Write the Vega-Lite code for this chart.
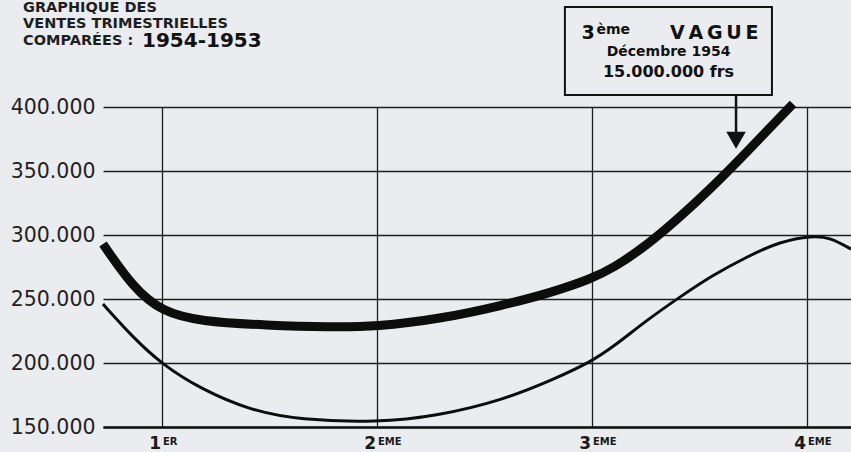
{
  "$schema": "https://vega.github.io/schema/vega-lite/v6.json",
  "width": 748,
  "height": 320,
  "autosize": "none",
  "padding": {"left": 103, "top": 107, "right": 0, "bottom": 25},
  "background": "#eaecef",
  "config": {"view": {"stroke": null}, "font": "DejaVu Sans"},
  "datasets": {
    "sales": [
      {"q": 0.7256, "value": 293000, "year": "1954"},
      {"q": 0.865, "value": 259000, "year": "1954"},
      {"q": 1.0, "value": 240000, "year": "1954"},
      {"q": 1.177, "value": 232500, "year": "1954"},
      {"q": 1.488, "value": 229500, "year": "1954"},
      {"q": 1.781, "value": 228000, "year": "1954"},
      {"q": 2.0, "value": 228500, "year": "1954"},
      {"q": 2.279, "value": 234000, "year": "1954"},
      {"q": 2.586, "value": 245000, "year": "1954"},
      {"q": 2.819, "value": 255500, "year": "1954"},
      {"q": 2.991, "value": 265500, "year": "1954"},
      {"q": 3.098, "value": 274000, "year": "1954"},
      {"q": 3.256, "value": 292000, "year": "1954"},
      {"q": 3.409, "value": 314000, "year": "1954"},
      {"q": 3.563, "value": 338000, "year": "1954"},
      {"q": 3.721, "value": 365000, "year": "1954"},
      {"q": 3.874, "value": 392000, "year": "1954"},
      {"q": 3.935, "value": 402500, "year": "1954"},
      {"q": 0.7256, "value": 246000, "year": "1953"},
      {"q": 0.865, "value": 220000, "year": "1953"},
      {"q": 1.0, "value": 199000, "year": "1953"},
      {"q": 1.177, "value": 180000, "year": "1953"},
      {"q": 1.409, "value": 163000, "year": "1953"},
      {"q": 1.642, "value": 155500, "year": "1953"},
      {"q": 2.0, "value": 153500, "year": "1953"},
      {"q": 2.279, "value": 158500, "year": "1953"},
      {"q": 2.586, "value": 171000, "year": "1953"},
      {"q": 2.819, "value": 187000, "year": "1953"},
      {"q": 2.991, "value": 200500, "year": "1953"},
      {"q": 3.098, "value": 212500, "year": "1953"},
      {"q": 3.256, "value": 233600, "year": "1953"},
      {"q": 3.409, "value": 251600, "year": "1953"},
      {"q": 3.563, "value": 268800, "year": "1953"},
      {"q": 3.721, "value": 283000, "year": "1953"},
      {"q": 3.874, "value": 295000, "year": "1953"},
      {"q": 4.028, "value": 299500, "year": "1953"},
      {"q": 4.107, "value": 298000, "year": "1953"},
      {"q": 4.2047, "value": 289000, "year": "1953"}
    ],
    "quarters": [
      {"q": 1, "n": "1", "s": "ER"},
      {"q": 2, "n": "2", "s": "EME"},
      {"q": 3, "n": "3", "s": "EME"},
      {"q": 4, "n": "4", "s": "EME"}
    ],
    "one": [{}]
  },
  "layer": [
    {
      "data": {"name": "sales"},
      "mark": {"type": "line", "interpolate": "basis", "color": "#0d0d0d", "strokeCap": "butt", "clip": false},
      "encoding": {
        "x": {
          "field": "q", "type": "quantitative",
          "scale": {"domain": [0.7256, 4.2047], "nice": false, "zero": false},
          "axis": {
            "values": [1, 2, 3, 4], "grid": true, "gridColor": "#1e1e1e", "gridWidth": 1.3, "gridOpacity": 1,
            "labels": false, "ticks": false, "domain": true, "domainColor": "#111", "domainWidth": 2.6, "title": null
          }
        },
        "y": {
          "field": "value", "type": "quantitative",
          "scale": {"domain": [150000, 400000], "nice": false, "zero": false},
          "axis": {
            "values": [150000, 175000, 200000, 225000, 250000, 275000, 300000, 325000, 350000, 375000, 400000],
            "grid": true, "gridColor": "#1e1e1e", "gridWidth": 1.3, "gridOpacity": 1,
            "domain": false, "ticks": false, "title": null, "labelOverlap": false,
            "labelExpr": "datum.value % 50000 === 0 ? replace(format(datum.value, ','), ',', '.') : ''",
            "labelFontSize": 20.5, "labelFont": "DejaVu Sans", "labelColor": "#222", "labelPadding": 8
          }
        },
        "strokeWidth": {
          "field": "year", "type": "nominal",
          "scale": {"domain": ["1954", "1953"], "range": [9, 3]},
          "legend": null
        }
      }
    },
    {
      "data": {"name": "quarters"},
      "mark": {"type": "text", "align": "right", "baseline": "middle", "dx": -1, "dy": 17, "fontSize": 17, "fontWeight": "bold", "color": "#1a1a1a"},
      "encoding": {
        "x": {"field": "q", "type": "quantitative"},
        "y": {"datum": 150000},
        "text": {"field": "n"}
      }
    },
    {
      "data": {"name": "quarters"},
      "mark": {"type": "text", "align": "left", "baseline": "middle", "dx": 1, "dy": 15, "fontSize": 10, "fontWeight": "bold", "color": "#1a1a1a"},
      "encoding": {
        "x": {"field": "q", "type": "quantitative"},
        "y": {"datum": 150000},
        "text": {"field": "s"}
      }
    },
    {
      "data": {"name": "one"},
      "mark": {"type": "text", "align": "left", "baseline": "middle", "fontSize": 14.5, "fontWeight": "bold", "color": "#1e1e1e"},
      "encoding": {"x": {"datum": 0.3535}, "y": {"datum": 477344}, "text": {"value": "GRAPHIQUE  DES"}}
    },
    {
      "data": {"name": "one"},
      "mark": {"type": "text", "align": "left", "baseline": "middle", "fontSize": 14.5, "fontWeight": "bold", "color": "#1e1e1e"},
      "encoding": {"x": {"datum": 0.3535}, "y": {"datum": 464844}, "text": {"value": "VENTES TRIMESTRIELLES"}}
    },
    {
      "data": {"name": "one"},
      "mark": {"type": "text", "align": "left", "baseline": "middle", "fontSize": 14.5, "fontWeight": "bold", "color": "#1e1e1e"},
      "encoding": {"x": {"datum": 0.3535}, "y": {"datum": 451562}, "text": {"value": "COMPARÉES :"}}
    },
    {
      "data": {"name": "one"},
      "mark": {"type": "text", "align": "left", "baseline": "middle", "dx": 119, "fontSize": 20, "fontWeight": "bold", "color": "#111"},
      "encoding": {"x": {"datum": 0.3535}, "y": {"datum": 451562}, "text": {"value": "1954-1953"}}
    },
    {
      "data": {"name": "one"},
      "mark": {"type": "rect", "fill": "#eaecef", "stroke": "#111", "strokeWidth": 2, "clip": false},
      "encoding": {
        "x": {"datum": 2.874}, "x2": {"datum": 3.837},
        "y": {"datum": 478125}, "y2": {"datum": 409375}
      }
    },
    {
      "data": {"name": "one"},
      "mark": {"type": "rule", "stroke": "#111", "strokeWidth": 2.5, "clip": false},
      "encoding": {
        "x": {"datum": 3.67},
        "y": {"datum": 409375}, "y2": {"datum": 378125}
      }
    },
    {
      "data": {"name": "one"},
      "mark": {"type": "point", "shape": "triangle-down", "filled": true, "color": "#111", "size": 380, "opacity": 1, "clip": false},
      "encoding": {
        "x": {"datum": 3.67},
        "y": {"datum": 374000}
      }
    },
    {
      "data": {"name": "one"},
      "mark": {"type": "text", "align": "left", "baseline": "middle", "dx": -87, "fontSize": 19, "fontWeight": "bold", "color": "#111"},
      "encoding": {"x": {"datum": 3.356}, "y": {"datum": 458203}, "text": {"value": "3"}}
    },
    {
      "data": {"name": "one"},
      "mark": {"type": "text", "align": "left", "baseline": "middle", "dx": -72, "dy": -3, "fontSize": 14, "fontWeight": "bold", "color": "#111"},
      "encoding": {"x": {"datum": 3.356}, "y": {"datum": 458203}, "text": {"value": "ème"}}
    },
    {
      "data": {"name": "one"},
      "mark": {"type": "text", "align": "right", "baseline": "middle", "dx": 90, "fontSize": 19, "fontWeight": "bold", "color": "#111"},
      "encoding": {"x": {"datum": 3.356}, "y": {"datum": 458203}, "text": {"value": "V\u2009A\u2009G\u2009U\u2009E"}}
    },
    {
      "data": {"name": "one"},
      "mark": {"type": "text", "align": "center", "baseline": "middle", "fontSize": 14, "fontWeight": "bold", "color": "#111"},
      "encoding": {"x": {"datum": 3.356}, "y": {"datum": 442969}, "text": {"value": "Décembre  1954"}}
    },
    {
      "data": {"name": "one"},
      "mark": {"type": "text", "align": "center", "baseline": "middle", "fontSize": 16, "fontWeight": "bold", "color": "#111"},
      "encoding": {"x": {"datum": 3.356}, "y": {"datum": 427344}, "text": {"value": "15.000.000 frs"}}
    }
  ]
}
